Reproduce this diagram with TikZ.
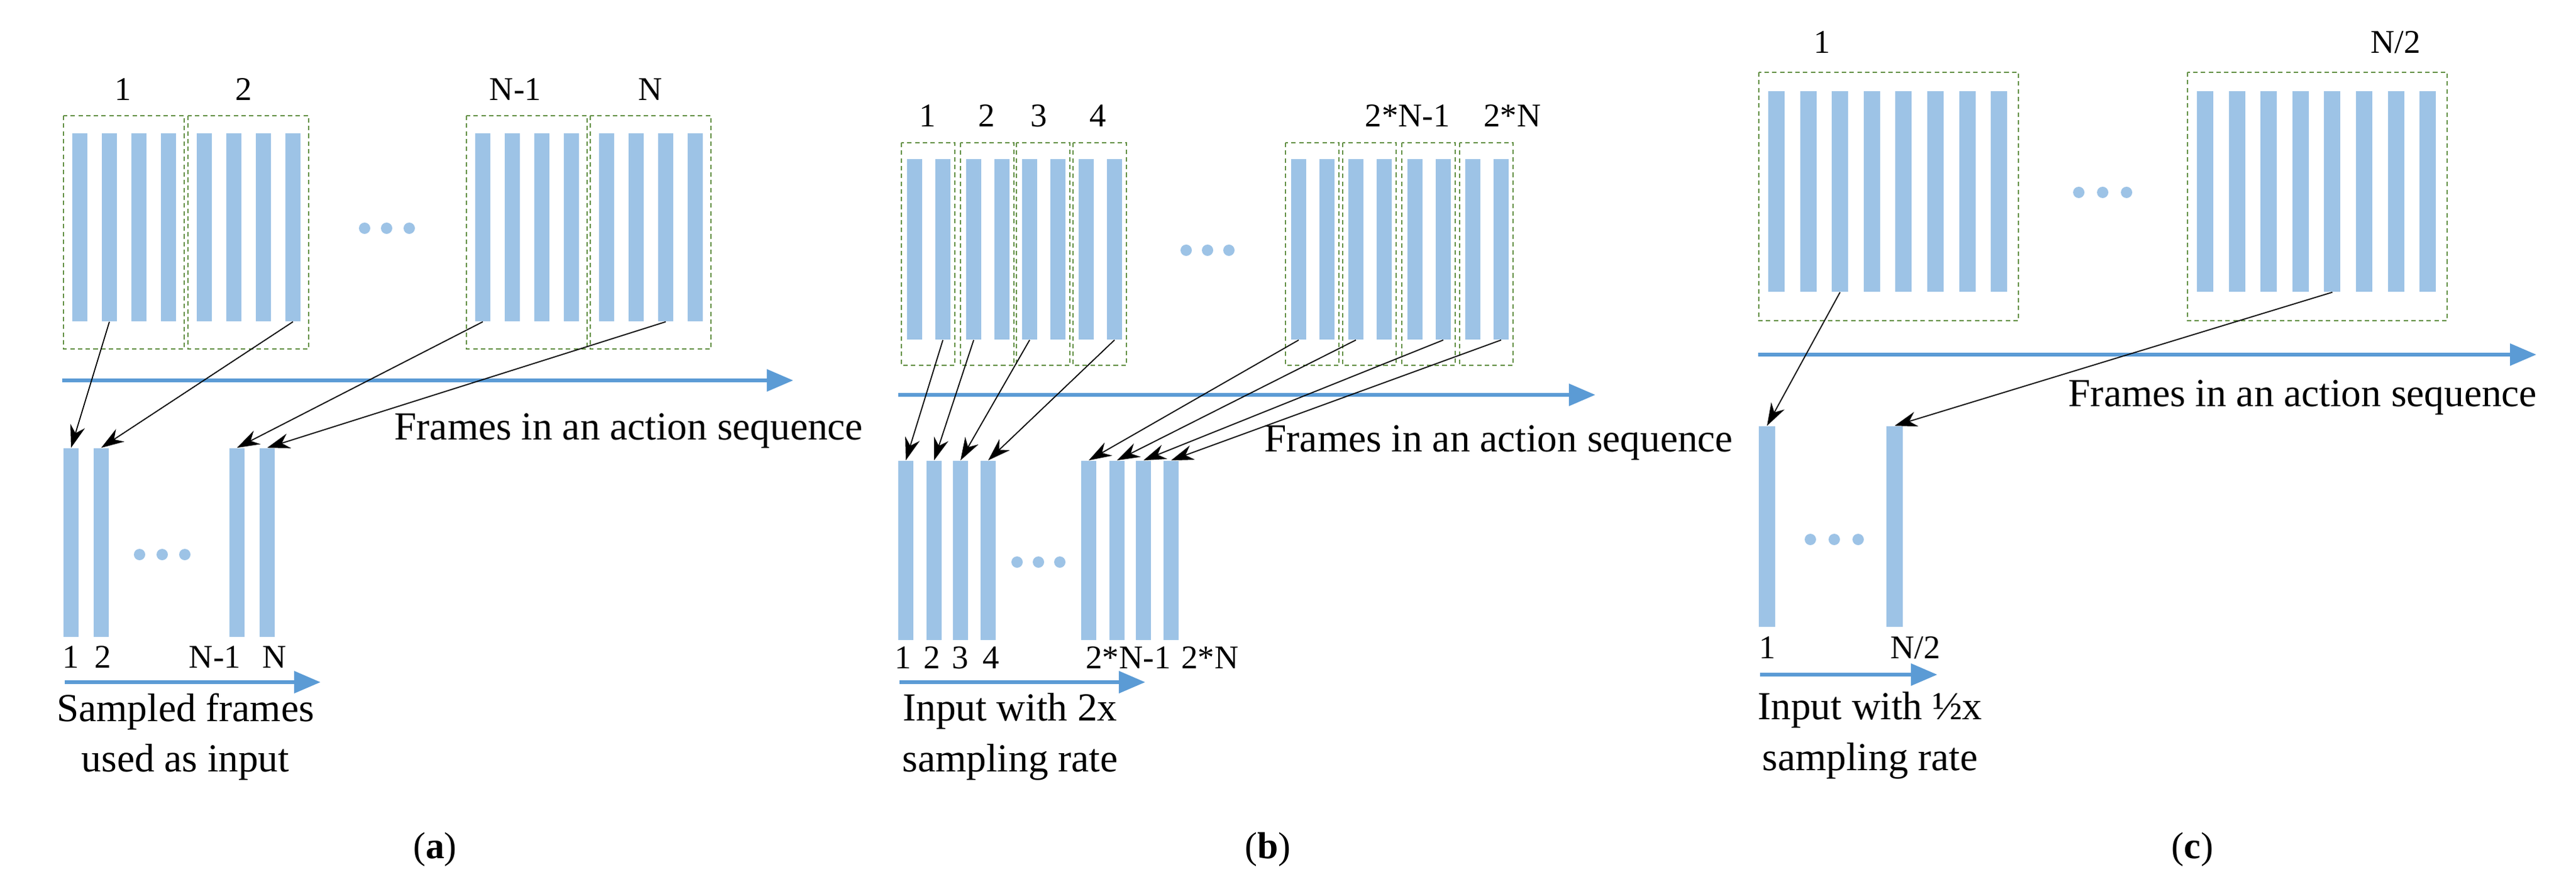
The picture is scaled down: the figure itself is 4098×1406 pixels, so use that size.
\documentclass[tikz,border=0pt]{standalone}
\usepackage{fontspec}
\setmainfont{Liberation Serif}
\usetikzlibrary{arrows.meta}
\definecolor{barblue}{RGB}{157,195,230}
\definecolor{axblue}{RGB}{91,155,213}
\definecolor{boxgreen}{RGB}{100,145,70}
\begin{document}
\begin{tikzpicture}[x=0.01cm,y=-0.01cm,
  bar/.style={fill=barblue,draw=none,inner sep=0,minimum width=0.24cm},
  grp/.style={draw=boxgreen,dashed,line width=0.4pt,dash pattern=on 2pt off 1.5pt},
  dot/.style={circle,fill=barblue,inner sep=0,minimum size=0.18cm},
  axis/.style={draw=axblue,line width=1.8pt,-{Triangle[length=0.42cm,width=0.34cm]}},
  map/.style={draw=black,line width=0.5pt,-{Stealth[length=0.36cm,width=0.24cm]}},
  lab/.style={font=\fontsize{15}{15}\selectfont,inner sep=0},
  txt/.style={font=\fontsize{18}{23}\selectfont,inner sep=0,align=center},
  capt/.style={font=\fontsize{17}{17}\selectfont,inner sep=0}]
\useasboundingbox (0,0) rectangle (4098,1406);
% ================= (a) =================
\foreach \bx/\n in {101/1,299/2,742/3,939/4}{
  \draw[grp] (\bx,184) rectangle ++(192,371);
  \foreach \k in {0,1,2,3}{
    \node[bar,minimum height=2.99cm] (a\n-\k) at ({\bx+26+47*\k},361.5) {};
  }
}
\node[lab] (la1) at (196,142) {1};
\node[lab] (la2) at (388,142) {2};
\node[lab] (la3) at (820,142) {N-1};
\node[lab] (la4) at (1035,142) {N};
\foreach \x [count=\i] in {580,615,651}{\node[dot] (ad\i) at (\x,363) {};}
\coordinate (aax1) at (99,605); \coordinate (aax2) at (1262,605);
\draw[axis] (aax1) -- (aax2);
\node[txt,anchor=west] (atxt) at (627,685) {Frames in an action sequence};
\foreach \x [count=\i] in {113,161,377,425}{
  \node[bar,minimum height=3.0cm] (ab\i) at (\x,863) {};
}
\foreach \x [count=\i] in {222,258,294}{\node[dot] (abd\i) at (\x,882) {};}
\node[lab] (lb1) at (113,1045) {1};
\node[lab] (lb2) at (164,1045) {2};
\node[lab] (lb3) at (342,1045) {N-1};
\node[lab] (lb4) at (437,1045) {N};
\coordinate (asx1) at (103,1085); \coordinate (asx2) at (510,1085);
\draw[axis] (asx1) -- (asx2);
\node[txt] (asub) at (295,1172) {Sampled frames\\used as input};
\node[capt] (capa) at (692,1351) {(\textbf{a})};
\draw[map] (a1-1.south) -- (ab1.north);
\draw[map] (a2-3.south) -- (ab2.north);
\draw[map] (a3-0.south) -- (ab3.north);
\draw[map] (a4-2.south) -- (ab4.north);
% ================= (b) =================
\foreach \bx/\n in {1434/1,1528/2,1617/3,1707/4,2045/5,2136/6,2230/7,2322/8}{
  \draw[grp] (\bx,227) rectangle ++(85,354);
  \node[bar,minimum height=2.87cm] (b\n-0) at ({\bx+21},396.5) {};
  \node[bar,minimum height=2.87cm] (b\n-1) at ({\bx+66},396.5) {};
}
\node[lab] (lc1) at (1476,184) {1};
\node[lab] (lc2) at (1570,184) {2};
\node[lab] (lc3) at (1653,184) {3};
\node[lab] (lc4) at (1747,184) {4};
\node[lab] (lc5) at (2239,184) {2*N-1};
\node[lab] (lc6) at (2406,184) {2*N};
\foreach \x [count=\i] in {1887,1921,1955}{\node[dot] (bd\i) at (\x,398) {};}
\coordinate (bax1) at (1429,628); \coordinate (bax2) at (2538,628);
\draw[axis] (bax1) -- (bax2);
\node[txt,anchor=west] (btxt) at (2011,704) {Frames in an action sequence};
\foreach \x [count=\i] in {1441,1486,1528,1572,1732,1777,1819,1863}{
  \node[bar,minimum height=2.85cm] (bb\i) at (\x,875.5) {};
}
\foreach \x [count=\i] in {1618,1652,1686}{\node[dot] (bbd\i) at (\x,894) {};}
\node[lab] (ld1) at (1437,1046) {1};
\node[lab] (ld2) at (1483,1046) {2};
\node[lab] (ld3) at (1528,1046) {3};
\node[lab] (ld4) at (1577,1046) {4};
\node[lab] (ld5) at (1795,1046) {2*N-1};
\node[lab] (ld6) at (1925,1046) {2*N};
\coordinate (bsx1) at (1431,1085); \coordinate (bsx2) at (1822,1085);
\draw[axis] (bsx1) -- (bsx2);
\node[txt] (bsub) at (1607,1172) {Input with 2x\\sampling rate};
\node[capt] (capb) at (2017,1351) {(\textbf{b})};
\draw[map] (b1-1.south) -- (bb1.north);
\draw[map] (b2-0.south) -- (bb2.north);
\draw[map] (b3-0.south) -- (bb3.north);
\draw[map] (b4-1.south) -- (bb4.north);
\draw[map] (b5-0.south) -- (bb5.north);
\draw[map] (b6-0.south) -- (bb6.north);
\draw[map] (b7-1.south) -- (bb7.north);
\draw[map] (b8-1.south) -- (bb8.north);
% ================= (c) =================
\foreach \bx/\n in {2798/1,3480/2}{
  \draw[grp] (\bx,115) rectangle ++(413,395);
  \foreach \k in {0,...,7}{
    \node[bar,minimum width=0.26cm,minimum height=3.19cm] (c\n-\k) at ({\bx+28+50.6*\k},304.5) {};
  }
}
\node[lab] (le1) at (2899,67) {1};
\node[lab] (le2) at (3811,67) {N/2};
\foreach \x [count=\i] in {3307,3345,3383}{\node[dot] (cd\i) at (\x,306) {};}
\coordinate (cax1) at (2797,564); \coordinate (cax2) at (4035,564);
\draw[axis] (cax1) -- (cax2);
\node[txt,anchor=west] (ctxt) at (3290,632) {Frames in an action sequence};
\node[bar,minimum width=0.26cm,minimum height=3.19cm] (cb1) at (2811,837.5) {};
\node[bar,minimum width=0.26cm,minimum height=3.19cm] (cb2) at (3014,837.5) {};
\foreach \x [count=\i] in {2880,2918,2956}{\node[dot] (cbd\i) at (\x,858) {};}
\node[lab] (lf1) at (2812,1030) {1};
\node[lab] (lf2) at (3047,1030) {N/2};
\coordinate (csx1) at (2800,1073); \coordinate (csx2) at (3082,1073);
\draw[axis] (csx1) -- (csx2);
\node[txt] (csub) at (2975,1170) {Input with ½x\\sampling rate};
\node[capt] (capc) at (3488,1351) {(\textbf{c})};
\draw[map] (c1-2.south) -- (cb1.north);
\draw[map] (c2-4.south) -- (cb2.north);
\end{tikzpicture}
\end{document}
